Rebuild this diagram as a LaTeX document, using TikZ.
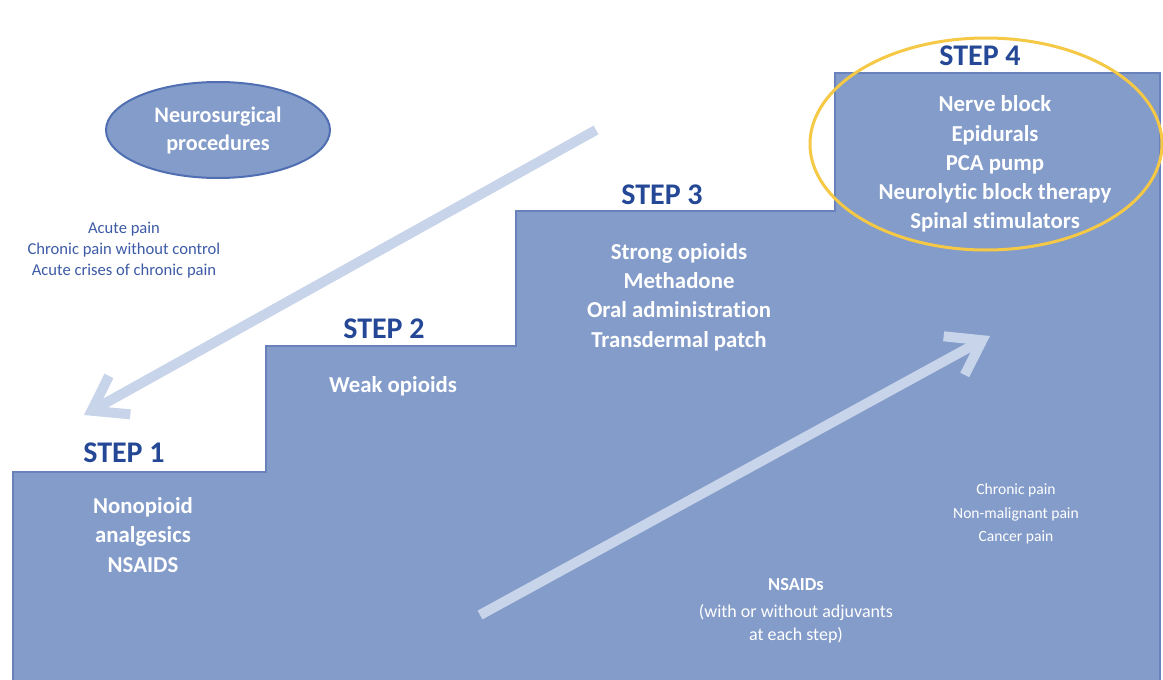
\documentclass[tikz,border=0pt]{standalone}
\usepackage{fontspec}
\setmainfont{Carlito}[Ligatures=NoCommon]
\usepackage{tikz}
\usetikzlibrary{arrows.meta}
\usetikzlibrary{shapes.geometric}
\definecolor{stepfill}{RGB}{132,156,201}
\definecolor{stepline}{RGB}{105,130,188}
\definecolor{steptitle}{RGB}{36,72,150}
\definecolor{paintext}{RGB}{60,90,165}
\definecolor{arrowblue}{RGB}{200,212,234}
\definecolor{ringyellow}{RGB}{245,200,70}
\definecolor{ovalline}{RGB}{80,110,178}

\begin{document}
\begin{tikzpicture}[x=0.5pt,y=-0.5pt,
	>={Straight Barb[length=16pt,width=22pt]},
	title/.style={text=steptitle,font=\fontsize{15}{18}\selectfont\bfseries},
	drug/.style={text=white,align=center,font=\fontsize{11.4}{14.6}\selectfont\bfseries},
	note/.style={align=center,font=\fontsize{8.3}{10.5}\selectfont},
	bigarrow/.style={->,draw=arrowblue,line width=5pt}]
	\useasboundingbox (0,0) rectangle (1163,680);
	\fill[stepfill] (13,680) -- (13,472) -- (266,472) -- (266,346) -- (516,346) -- (516,211)
		-- (835,211) -- (835,73) -- (1160,73) -- (1160,680) -- cycle;
	\draw[stepline,line width=1pt] (13,680) -- (13,472) -- (266,472) -- (266,346) -- (516,346)
		-- (516,211) -- (835,211) -- (835,73) -- (1160,73) -- (1160,680);

	\coordinate (downtail) at (596,130);
	\coordinate (downtip) at (84,415);
	\coordinate (uptail) at (480,615);
	\coordinate (uptip) at (990,336);
	\draw[bigarrow] (downtail) -- (downtip);
	\draw[bigarrow] (uptail) -- (uptip);

	\node[draw=ringyellow,line width=1.5pt,ellipse,minimum width=176pt,minimum height=106pt] (ring) at (986,144) {};
	\node[draw=ovalline,fill=stepfill,line width=1pt,ellipse,minimum width=112pt,minimum height=48pt,
		drug,font=\fontsize{11.1}{14}\selectfont\bfseries] (neuro) at (218,130) {Neurosurgical\\procedures};

	\node[title] (t1) at (124,453) {STEP 1};
	\node[title] (t2) at (384,329) {STEP 2};
	\node[title] (t3) at (662,195) {STEP 3};
	\node[title] (t4) at (980,56) {STEP 4};

	\node[drug] (s1) at (143,535) {Nonopioid\\analgesics\\NSAIDS};
	\node[drug] (s2) at (393,386) {Weak opioids};
	\node[drug] (s3) at (679,297) {Strong opioids\\Methadone\\Oral administration\\Transdermal patch};
	\node[drug] (s4) at (995,164) {Nerve block\\Epidurals\\PCA pump\\Neurolytic block therapy\\Spinal stimulators};

	\node[note,text=paintext] (acute) at (124,250) {Acute pain\\Chronic pain without control\\Acute crises of chronic pain};
	\node[note,text=white,font=\fontsize{7.8}{11.8}\selectfont] (chronic) at (1016,514) {Chronic pain\\Non-malignant pain\\Cancer pain};
	\node[text=white,font=\fontsize{9.2}{11}\selectfont\bfseries] (nsaid) at (796,585) {NSAIDs};
	\node[note,text=white,font=\fontsize{9}{11.5}\selectfont] (adjuv) at (796,624) {(with or without adjuvants\\at each step)};
\end{tikzpicture}
\end{document}
